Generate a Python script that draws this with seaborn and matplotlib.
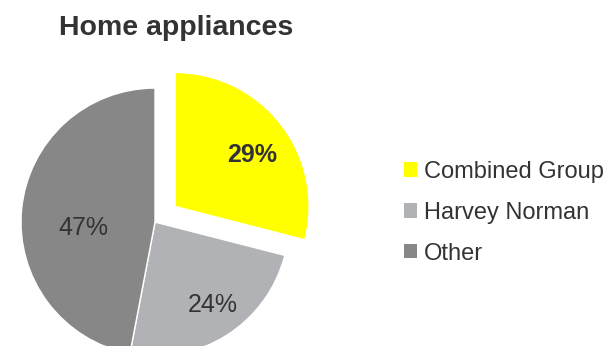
import numpy as np
import matplotlib
matplotlib.use("Agg")
import matplotlib.pyplot as plt
import seaborn as sns
from matplotlib.patches import Patch

# data
categories = ["Combined Group", "Harvey Norman", "Other"]
shares = [29, 24, 47]
colors = ["#FFFF00", "#B1B2B6", "#878787"]
title = "Home appliances"

# style
EXPLODE = [0.19, 0, 0]
LABEL_DIST = [0.70, 0.73, 0.54]
LABEL_NUDGE = [(2, -4), (4, 0), (0, -9)]  # points
BOLD_LABEL = [True, False, False]
TEXT = "#333333"

sns.set_theme(style="white")
plt.rcParams["font.family"] = ["Liberation Sans", "DejaVu Sans"]

fig = plt.figure(figsize=(6.08, 3.46), dpi=100)
# pie centre ~ (155, 222) px, radius ~134 px
ax = fig.add_axes([0.0015, -0.049, 0.562, 0.853])

wedges, _ = ax.pie(
    shares,
    colors=colors,
    explode=EXPLODE,
    startangle=90,
    counterclock=False,
    wedgeprops=dict(edgecolor="white", linewidth=1),
)
ax.set_xlim(-1.15, 1.40)
ax.set_ylim(-1.05, 1.15)
ax.set_aspect("equal")
ax.axis("off")

# percentage labels placed along each wedge's mid angle
for w, v, d, nd, b in zip(wedges, shares, LABEL_DIST, LABEL_NUDGE, BOLD_LABEL):
    ang = np.deg2rad((w.theta1 + w.theta2) / 2)
    cx, cy = w.center
    ax.annotate(f"{v}%", (cx + d * np.cos(ang), cy + d * np.sin(ang)),
                xytext=nd, textcoords="offset points",
                ha="center", va="center", fontsize=18, color=TEXT,
                fontweight="bold" if b else "normal")

fig.text(0.29, 0.92, title, ha="center", va="center",
         fontsize=20.5, fontweight="bold", color=TEXT)

handles = [Patch(facecolor=c, edgecolor="none") for c in colors]
leg = fig.legend(handles, categories, loc="center left",
                 bbox_to_anchor=(0.63, 0.385), frameon=False,
                 fontsize=17, handlelength=0.55, handleheight=0.55,
                 handletextpad=0.3, labelspacing=0.8)
for t in leg.get_texts():
    t.set_color(TEXT)

fig.savefig("out.png", dpi=100)
